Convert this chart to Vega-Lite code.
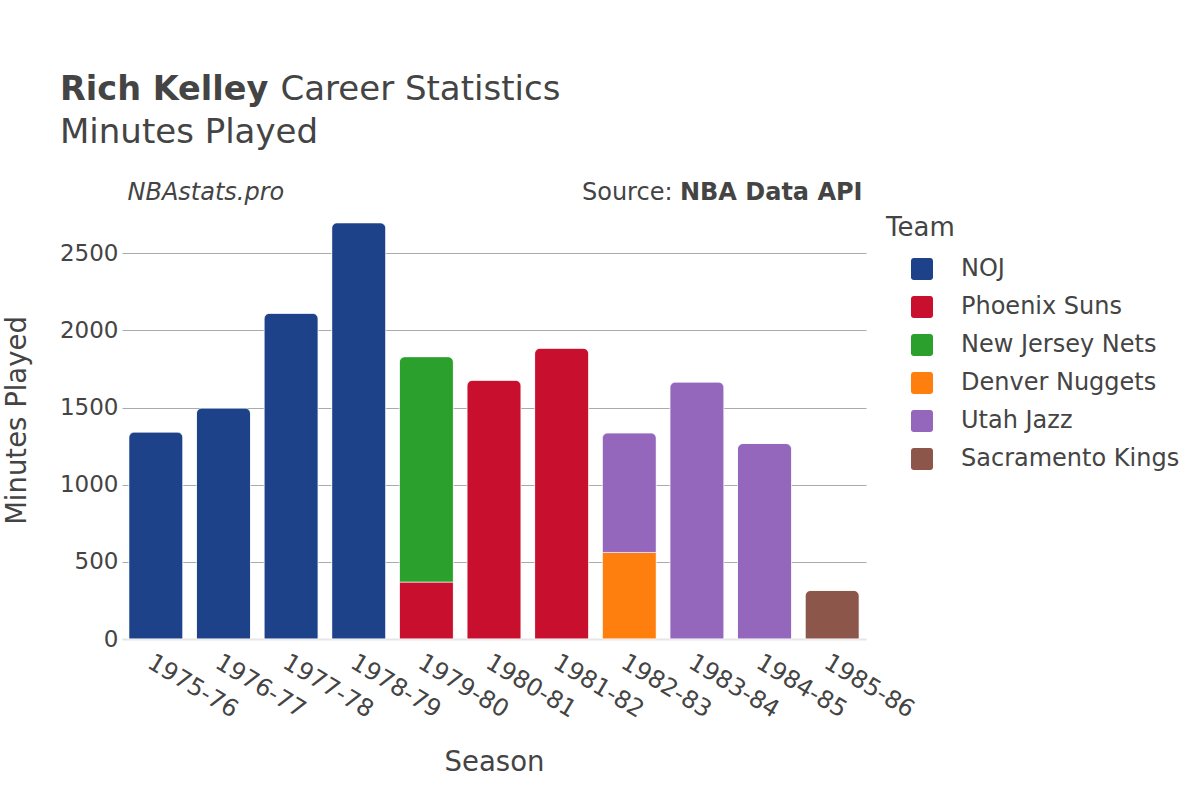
{
  "$schema": "https://vega.github.io/schema/vega-lite/v6.json",
  "autosize": {"type": "none"},
  "padding": {"left": 122, "top": 207, "right": 334, "bottom": 161},
  "width": 744,
  "height": 432,
  "background": "white",
  "config": {
    "font": "DejaVu Sans",
    "view": {"stroke": null},
    "axis": {"labelFont": "DejaVu Sans", "titleFont": "DejaVu Sans"},
    "legend": {"labelFont": "DejaVu Sans", "titleFont": "DejaVu Sans"}
  },
  "title": {
    "text": "Rich Kelley",
    "subtitle": "Minutes Played",
    "anchor": "start",
    "frame": "group",
    "dx": -62,
    "offset": -78,
    "font": "DejaVu Sans",
    "fontSize": 33.5,
    "fontWeight": "bold",
    "color": "#444444",
    "subtitleFont": "DejaVu Sans",
    "subtitleFontSize": 34,
    "subtitleFontWeight": "normal",
    "subtitleColor": "#444444",
    "subtitlePadding": 8
  },
  "data": {
    "values": [
      {"season": "1975-76", "team": "NOJ", "team_order": 1, "minutes": 1341},
      {"season": "1976-77", "team": "NOJ", "team_order": 1, "minutes": 1497},
      {"season": "1977-78", "team": "NOJ", "team_order": 1, "minutes": 2111},
      {"season": "1978-79", "team": "NOJ", "team_order": 1, "minutes": 2698},
      {"season": "1979-80", "team": "Phoenix Suns", "team_order": 2, "minutes": 369},
      {"season": "1979-80", "team": "New Jersey Nets", "team_order": 3, "minutes": 1461},
      {"season": "1980-81", "team": "Phoenix Suns", "team_order": 2, "minutes": 1677},
      {"season": "1981-82", "team": "Phoenix Suns", "team_order": 2, "minutes": 1885},
      {"season": "1982-83", "team": "Denver Nuggets", "team_order": 4, "minutes": 561},
      {"season": "1982-83", "team": "Utah Jazz", "team_order": 5, "minutes": 775},
      {"season": "1983-84", "team": "Utah Jazz", "team_order": 5, "minutes": 1665},
      {"season": "1984-85", "team": "Utah Jazz", "team_order": 5, "minutes": 1267},
      {"season": "1985-86", "team": "Sacramento Kings", "team_order": 6, "minutes": 315}
    ]
  },
  "resolve": {"axis": {"x": "independent", "y": "independent"}},
  "layer": [
    {
      "mark": {"type": "bar", "cornerRadiusEnd": 6, "stroke": "#ffffff", "strokeWidth": 1, "strokeOpacity": 0.6},
      "encoding": {
        "x": {
          "field": "season", "type": "nominal",
          "scale": {"paddingInner": 0.2, "paddingOuter": 0.1},
          "axis": {
            "orient": "bottom",
            "title": "Season",
            "titleFontSize": 27.5, "titleFontWeight": "normal", "titleColor": "#444444",
            "titleX": 372, "titleY": 131, "titleAlign": "center", "titleBaseline": "alphabetic",
            "labelAngle": 31, "labelAlign": "left", "labelBaseline": "top",
            "labelFontSize": 24, "labelColor": "#444444", "labelPadding": 11,
            "ticks": false,
            "domain": true, "domainColor": "#e6e6e6", "domainWidth": 2,
            "grid": false
          }
        },
        "y": {
          "field": "minutes", "type": "quantitative", "stack": "zero",
          "scale": {"domain": [0, 2800], "nice": false},
          "axis": {
            "orient": "left",
            "title": "Minutes Played",
            "titleFontSize": 27.5, "titleFontWeight": "normal", "titleColor": "#444444",
            "titleAngle": -90, "titleX": -97, "titleY": 213, "titleAlign": "center", "titleBaseline": "alphabetic",
            "values": [0, 500, 1000, 1500, 2000, 2500],
            "format": "d",
            "labelFontSize": 23, "labelColor": "#444444", "labelPadding": 4,
            "ticks": false, "domain": false,
            "grid": true,
            "gridColor": {"condition": {"test": "datum.value === 0", "value": "#e6e6e6"}, "value": "#aaaaaa"},
            "gridWidth": 1
          }
        },
        "color": {
          "field": "team", "type": "nominal",
          "scale": {
            "domain": ["NOJ", "Phoenix Suns", "New Jersey Nets", "Denver Nuggets", "Utah Jazz", "Sacramento Kings"],
            "range": ["#1d428a", "#c8102e", "#2ca02c", "#ff7f0e", "#9467bd", "#8c564b"]
          },
          "legend": {
            "orient": "right",
            "offset": 12,
            "padding": 8,
            "title": "Team",
            "titleFontSize": 26, "titleFontWeight": "normal", "titleColor": "#444444",
            "titlePadding": 16,
            "labelFontSize": 24, "labelColor": "#444444",
            "labelLimit": 400,
            "labelOffset": 27,
            "symbolOffset": 24,
            "symbolSize": 484,
            "symbolType": "M -0.75,-1 H 0.75 A 0.25 0.25 0 0 1 1 -0.75 V 0.75 A 0.25 0.25 0 0 1 0.75 1 H -0.75 A 0.25 0.25 0 0 1 -1 0.75 V -0.75 A 0.25 0.25 0 0 1 -0.75 -1 Z",
            "symbolStrokeWidth": 0,
            "rowPadding": 14
          }
        },
        "order": {"field": "team_order", "type": "quantitative"}
      }
    },
    {
      "mark": {"type": "bar", "opacity": 0},
      "encoding": {
        "x": {
          "field": "season", "type": "nominal",
          "axis": {
            "orient": "top",
            "title": "Career Statistics",
            "titleFontSize": 34, "titleFontWeight": "normal", "titleColor": "#444444",
            "titleX": 158, "titleY": -107.5, "titleAlign": "left", "titleBaseline": "alphabetic",
            "labels": false, "ticks": false, "domain": false, "grid": false
          }
        },
        "y": {
          "field": "minutes", "type": "quantitative",
          "scale": {"domain": [0, 2800], "nice": false},
          "axis": {
            "orient": "right",
            "title": "NBA Data API",
            "titleFontSize": 24, "titleFontWeight": "bold", "titleColor": "#444444",
            "titleAngle": 0, "titleX": -4, "titleY": -8, "titleAlign": "right", "titleBaseline": "alphabetic",
            "labels": false, "ticks": false, "domain": false, "grid": false
          }
        }
      }
    },
    {
      "mark": {"type": "bar", "opacity": 0},
      "encoding": {
        "x": {
          "field": "season", "type": "nominal",
          "axis": {
            "orient": "top",
            "title": "NBAstats.pro",
            "titleFontSize": 24, "titleFontWeight": "normal", "titleFontStyle": "italic", "titleColor": "#444444",
            "titleX": 5, "titleY": -8, "titleAlign": "left", "titleBaseline": "alphabetic",
            "labels": false, "ticks": false, "domain": false, "grid": false
          }
        },
        "y": {
          "field": "minutes", "type": "quantitative",
          "scale": {"domain": [0, 2800], "nice": false},
          "axis": {
            "orient": "right",
            "title": "Source:",
            "titleFontSize": 24, "titleFontWeight": "normal", "titleColor": "#444444",
            "titleAngle": 0, "titleX": -194, "titleY": -8, "titleAlign": "right", "titleBaseline": "alphabetic",
            "labels": false, "ticks": false, "domain": false, "grid": false
          }
        }
      }
    }
  ]
}
